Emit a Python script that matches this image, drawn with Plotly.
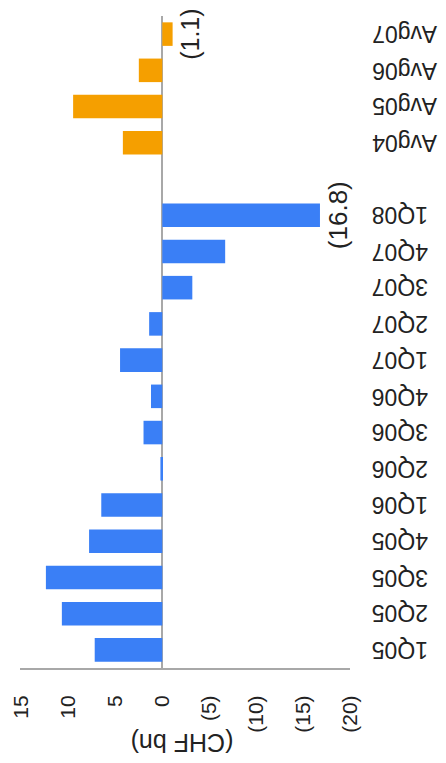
import plotly.graph_objects as go

quarters = ["1Q05", "2Q05", "3Q05", "4Q05", "1Q06", "2Q06", "3Q06", "4Q06",
            "1Q07", "2Q07", "3Q07", "4Q07", "1Q08"]
quarter_values = [7.2, 10.7, 12.4, 7.8, 6.5, 0.2, 2.0, 1.2, 4.5, 1.4, -3.2, -6.7, -16.8]
quarter_labels = ["", "", "", "", "", "", "", "", "", "", "", "", "(16.8)"]

averages = ["Avg04", "Avg05", "Avg06", "Avg07"]
average_values = [4.2, 9.5, 2.5, -1.1]
average_labels = ["", "", "", "(1.1)"]

gap = [" "]
category_order = quarters + gap + averages

tick_values = [15, 10, 5, 0, -5, -10, -15, -20]
tick_text = ["15", "10", "5", "0", "(5)", "(10)", "(15)", "(20)"]

BLUE = "#3A7FF6"
ORANGE = "#F59F00"
FONT = "Liberation Sans, Arial, sans-serif"

fig = go.Figure()
fig.add_trace(go.Bar(
    y=quarters, x=quarter_values, orientation="h",
    marker=dict(color=BLUE, line=dict(width=0)),
    width=0.65, text=quarter_labels, textposition="outside",
    textangle=-90, constraintext="none", cliponaxis=False,
    textfont=dict(size=26, color="#222", family=FONT),
))
fig.add_trace(go.Bar(
    y=averages, x=average_values, orientation="h",
    marker=dict(color=ORANGE, line=dict(width=0)),
    width=0.65, text=average_labels, textposition="outside",
    textangle=-90, constraintext="none", cliponaxis=False,
    textfont=dict(size=25, color="#222", family=FONT),
))

# category labels, upside down, left-aligned beside the plot
cat_annotations = [
    dict(text=c, xref="paper", yref="y", x=1.0606, y=c,
         xanchor="left", yanchor="middle", textangle=180, showarrow=False,
         font=dict(size=23, family=FONT, color="#222"))
    for c in quarters + averages
]

# page body has an 8px margin, so the figure is sized to fit the window
fig.update_layout(
    width=438, height=755,
    margin=dict(l=12, r=96, t=8, b=95),
    paper_bgcolor="white", plot_bgcolor="white",
    barmode="overlay", showlegend=False,
    font=dict(family=FONT, color="#222"),
    xaxis=dict(
        range=[15.16, -20], tickvals=tick_values, ticktext=tick_text,
        tickangle=-90, tickfont=dict(size=21), ticks="", ticklabelstandoff=17,
        automargin=False,
        showgrid=False, zeroline=True, zerolinecolor="#A8A8A8", zerolinewidth=1.5,
        showline=True, linecolor="#A8A8A8", linewidth=2,
    ),
    yaxis=dict(
        categoryorder="array", categoryarray=category_order,
        side="right", showticklabels=False, ticks="", automargin=False,
        showgrid=False, zeroline=False, showline=False,
    ),
    annotations=cat_annotations + [dict(
        text="(CHF bn)", xref="paper", yref="paper", x=0.49, y=-0.115,
        xanchor="center", yanchor="middle", textangle=180, showarrow=False,
        font=dict(size=25, family=FONT, color="#222"),
    )],
)

fig.write_html("out.html")
